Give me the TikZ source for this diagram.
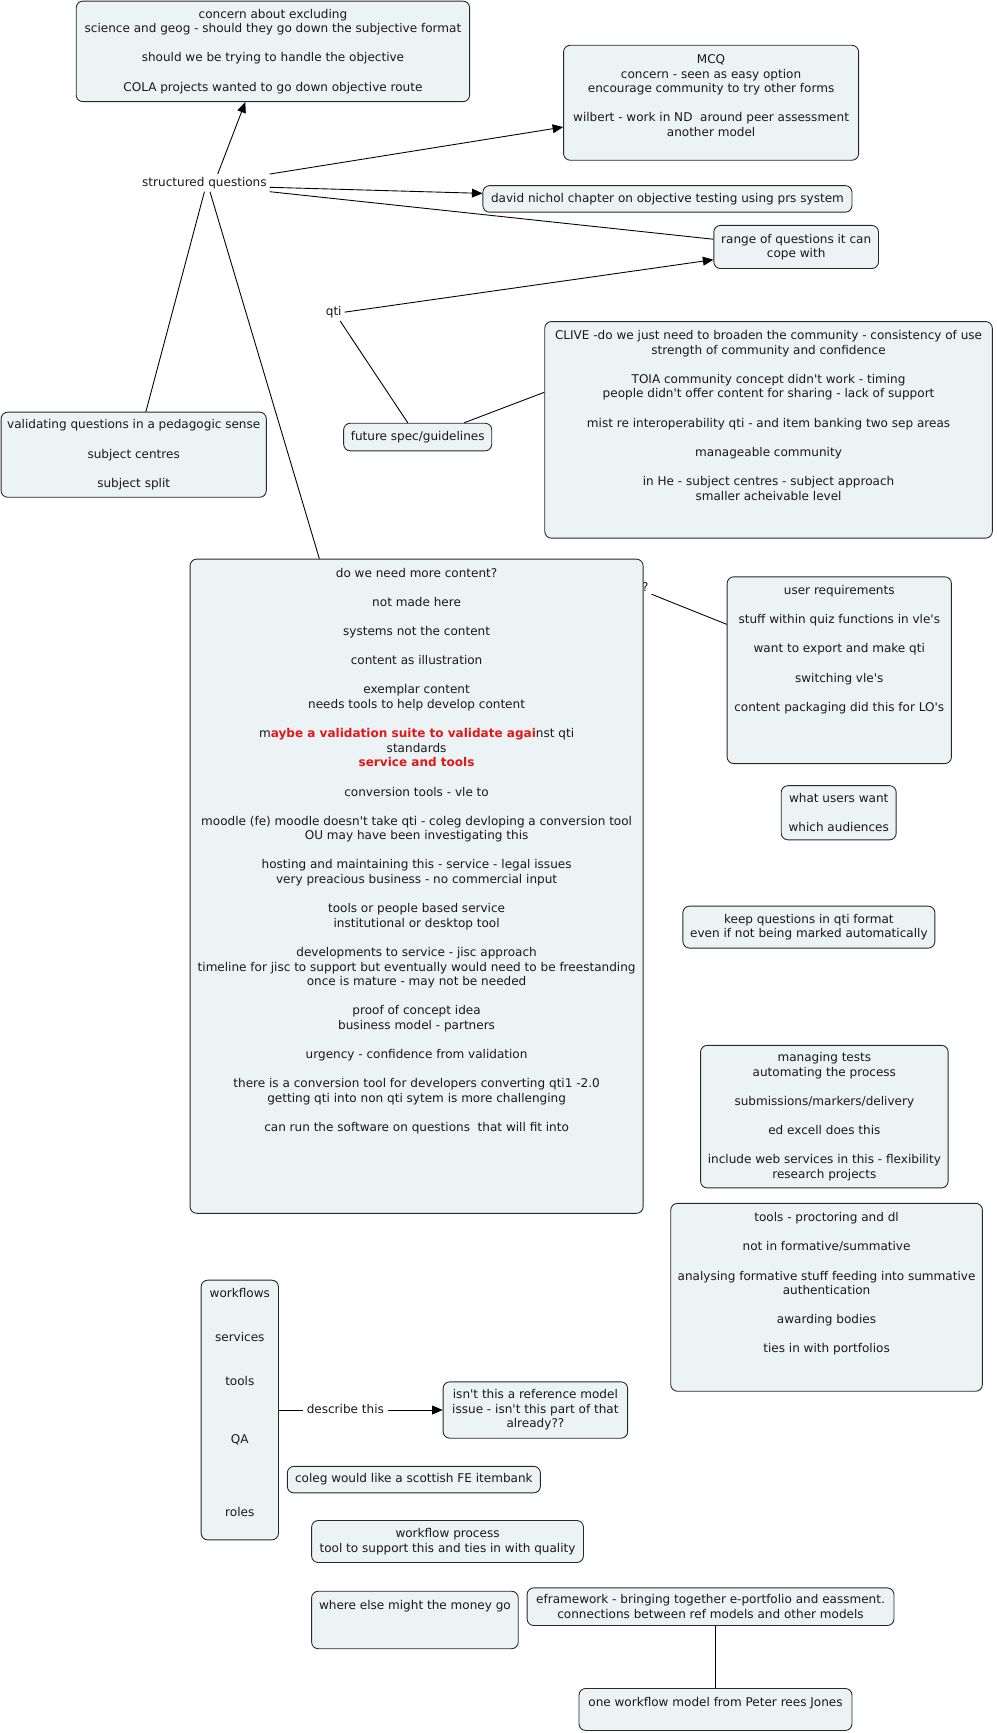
\documentclass[tikz,border=0pt]{standalone}
\usepackage{fontspec}
\setmainfont{DejaVu Sans}[Ligatures=TeXOff]
\usetikzlibrary{arrows.meta}
\definecolor{boxfill}{RGB}{236,243,245}
\definecolor{boxline}{RGB}{40,40,40}
\definecolor{txt}{RGB}{25,25,25}
\definecolor{qred}{RGB}{226,24,24}
\begin{document}
\begin{tikzpicture}[x=1pt,y=-1pt,
  every node/.style={font=\fontsize{10.9}{13.2}\selectfont, text=txt},
  cbox/.style={draw=boxline, fill=boxfill, rounded corners=6pt, line width=0.8pt, align=center, inner sep=2pt},
  plain/.style={align=center, inner sep=2.5pt},
  conn/.style={draw=black, line width=0.8pt},
  arr/.style={conn, -{Triangle[length=9.5pt,width=8pt]}}]
\fill[white] (0,0) rectangle (901.4,1568.3);
\useasboundingbox (0,0) rectangle (901.4,1568.3);

% plain text nodes
\node[plain] (sq) at (185,165.5) {structured questions};
\node[plain] (qti) at (302,282.5) {qti};
\node[plain] (ques) at (584,531) {?};
\node[plain, inner xsep=3.5pt, text height=8pt, text depth=2.5pt] (dt) at (312.5,1276) {describe this};

% boxes
\node[cbox, minimum width=356pt, minimum height=91pt] (A) at (247,46.5)
 {concern about excluding\\science and geog - should they go down the subjective format\\~\\should we be trying to handle the objective\\~\\COLA projects wanted to go down objective route};
\node[cbox, minimum width=267pt, minimum height=104pt] (MCQ) at (643.5,93)
 {MCQ\\concern - seen as easy option\\encourage community to try other forms\\~\\wilbert - work in ND~ around peer assessment\\another model\\~};
\node[cbox, minimum width=334pt, minimum height=24pt] (david) at (604,180)
 {david nichol chapter on objective testing using prs system};
\node[cbox, minimum width=149pt, minimum height=39pt] (range) at (720.5,223.5)
 {range of questions it can\\cope with};
\node[cbox, minimum width=134pt, minimum height=25pt] (fs) at (378,395.5)
 {future spec/guidelines};
\node[cbox, minimum width=405pt, minimum height=196pt] (clive) at (695.5,389)
 {CLIVE -do we just need to broaden the community - consistency of use\\strength of community and confidence\\~\\TOIA community concept didn't work - timing\\people didn't offer content for sharing - lack of support\\~\\mist re interoperability qti - and item banking two sep areas\\~\\manageable community\\~\\in He - subject centres - subject approach\\smaller acheivable level\\~\\~};
\node[cbox, minimum width=240pt, minimum height=77pt] (val) at (121,411.5)
 {validating questions in a pedagogic sense\\~\\subject centres\\~\\subject split};
\node[cbox, minimum width=410pt, minimum height=592pt] (big) at (377,802)
 {do we need more content?\\~\\not made here\\~\\systems not the content\\~\\content as illustration\\~\\exemplar content\\needs tools to help develop content\\~\\m\textcolor{qred}{\bfseries aybe a validation suite to validate agai}nst qti\\standards\\\textcolor{qred}{\bfseries service and tools}\\~\\conversion tools - vle to\\~\\moodle (fe) moodle doesn't take qti - coleg devloping a conversion tool\\OU may have been investigating this\\~\\hosting and maintaining this - service - legal issues\\very preacious business - no commercial input\\~\\tools or people based service\\institutional or desktop tool\\~\\developments to service - jisc approach\\timeline for jisc to support but eventually would need to be freestanding\\once is mature - may not be needed\\~\\proof of concept idea\\business model - partners\\~\\urgency - confidence from validation\\~\\there is a conversion tool for developers converting qti1 -2.0\\getting qti into non qti sytem is more challenging\\~\\can run the software on questions~ that will fit into\\~\\~\\~\\~\\~};
\node[cbox, minimum width=203pt, minimum height=169pt] (ureq) at (759.5,606.5)
 {user requirements\\~\\stuff within quiz functions in vle's\\~\\want to export and make qti\\~\\switching vle's\\~\\content packaging did this for LO's\\~\\~\\~};
\node[cbox, minimum width=104pt, minimum height=49pt] (wuw) at (759,735.5)
 {what users want\\~\\which audiences};
\node[cbox, minimum width=228pt, minimum height=38pt] (keep) at (732,839)
 {keep questions in qti format\\even if not being marked automatically};
\node[cbox, minimum width=224pt, minimum height=129pt] (mng) at (746,1010.5)
 {managing tests\\automating the process\\~\\submissions/markers/delivery\\~\\ed excell does this\\~\\include web services in this - flexibility\\research projects};
\node[cbox, minimum width=282pt, minimum height=170pt] (proc) at (748,1174)
 {tools - proctoring and dl\\~\\not in formative/summative\\~\\analysing formative stuff feeding into summative\\authentication\\~\\awarding bodies\\~\\ties in with portfolios\\~\\~};
\node[cbox, minimum width=70pt, minimum height=235pt] (wf) at (217,1276)
 {workflows\\~\\~\\services\\~\\~\\tools\\~\\~\\~\\QA\\~\\~\\~\\~\\roles\\~};
\node[cbox, minimum width=167pt, minimum height=51pt] (isnt) at (484.5,1276)
 {isn't this a reference model\\issue - isn't this part of that\\already??};
\node[cbox, minimum width=229pt, minimum height=24pt] (coleg) at (374.5,1339)
 {coleg would like a scottish FE itembank};
\node[cbox, minimum width=246pt, minimum height=38pt] (wfp) at (405,1395)
 {workflow process\\tool to support this and ties in with quality};
\node[cbox, minimum width=187pt, minimum height=52pt] (money) at (375.5,1466)
 {where else might the money go\\~\\~};
\node[cbox, minimum width=332pt, minimum height=34pt] (ef) at (643,1454)
 {eframework - bringing together e-portfolio and eassment.\\connections between ref models and other models};
\node[cbox, minimum width=247pt, minimum height=38pt] (onewf) at (647.5,1547)
 {one workflow model from Peter rees Jones\\~};

% connectors
\draw[arr] ([xshift=12pt]sq.north) -- ([xshift=-25pt]A.south);
\draw[arr] (sq.north east) -- ([yshift=-22pt]MCQ.west);
\draw[arr] ([yshift=-4pt]sq.east) -- ([yshift=5pt]david.west);
\draw[conn] (sq.south east) -- ([yshift=7pt]range.west);
\draw[arr] (qti.east) -- ([yshift=-11.5pt]range.west);
\draw[conn] ([xshift=-4pt]qti.south east) -- ([xshift=-9pt]fs.north);
\draw[conn] ([xshift=42pt]fs.north) -- ([yshift=34pt]clive.west);
\draw[conn] (sq.south) -- ([xshift=11pt]val.north);
\draw[conn] ([xshift=5pt]sq.south) -- ([xshift=-88pt]big.north);
\draw[conn] (ques.south east) -- ([yshift=41.5pt]ureq.west);
\draw[conn] (wf.east) -- (dt.west);
\draw[arr] (dt.east) -- (isnt.west);
\draw[conn] (onewf.north) -- (onewf.north |- ef.south);
\end{tikzpicture}
\end{document}
